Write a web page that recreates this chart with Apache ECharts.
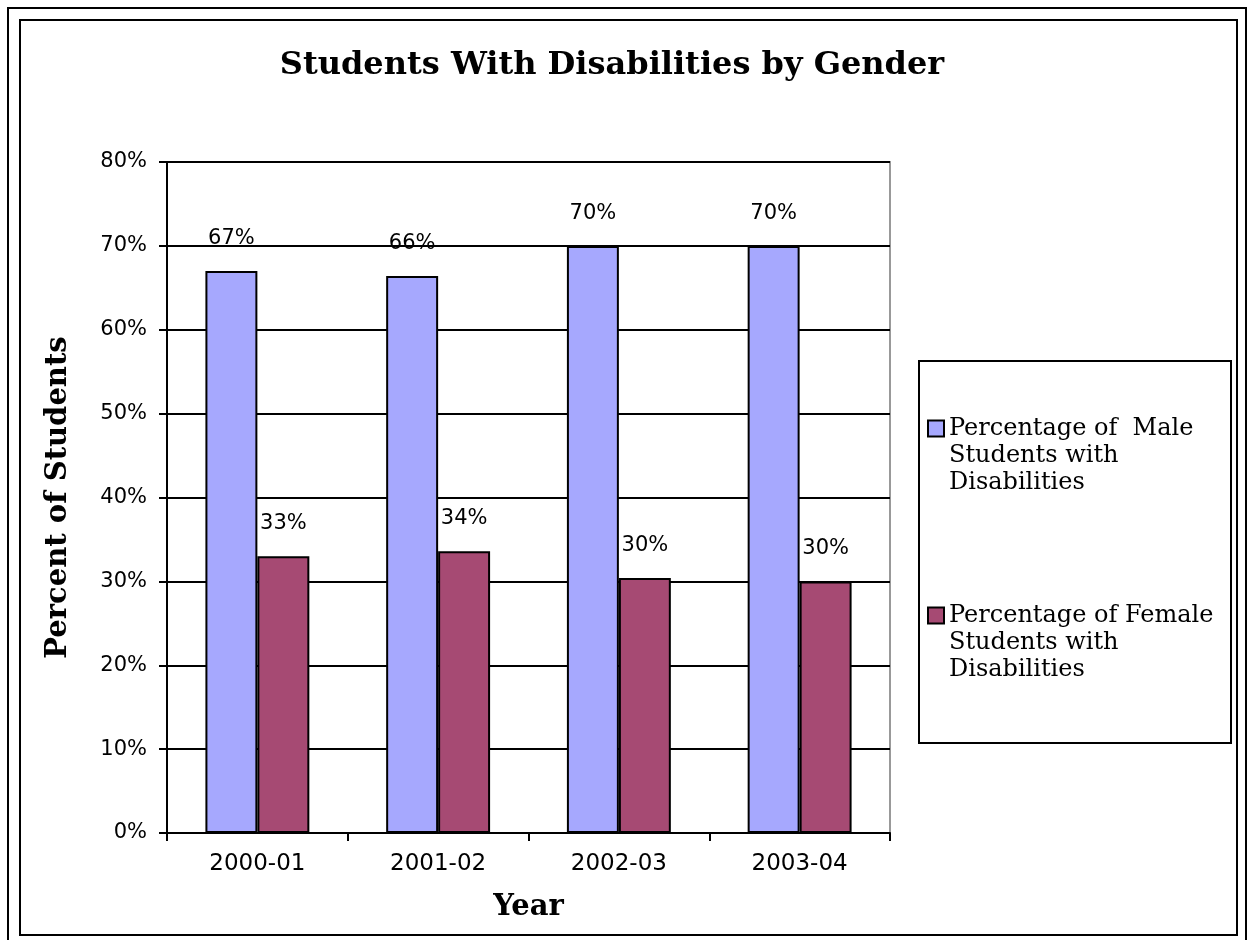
<!DOCTYPE html>
<html>
<head>
<meta charset="utf-8">
<script src="https://cdn.jsdelivr.net/npm/echarts@6/dist/echarts.min.js"></script>
<style>
    html, body { margin: 0; padding: 0; background: #fff; }
    #chart { width: 1248px; height: 940px; }
</style>
</head>
<body>
<div id="chart"></div>
<script>
var years = ['2000-01', '2001-02', '2002-03', '2003-04'];
var maleValues = [67.0, 66.4, 70.0, 70.0];
var femaleValues = [33.0, 33.6, 30.4, 30.0];
var seriesNames = ['Percentage of Male Students with Disabilities', 'Percentage of Female Students with Disabilities'];
var legendLines = {
    'Percentage of Male Students with Disabilities': ['Percentage of  Male', 'Students with', 'Disabilities'],
    'Percentage of Female Students with Disabilities': ['Percentage of Female', 'Students with', 'Disabilities']
};

var dom = document.getElementById('chart');
var myChart = echarts.init(dom, null, {renderer: 'canvas'});

var barLabel = {
    show: true,
    position: 'top',
    distance: 22,
    color: '#000',
    fontFamily: 'DejaVu Sans',
    fontSize: 21,
    formatter: function (p) {
        return Math.round(p.value) + '%';
    }
};

option = {
    animation: false,
    backgroundColor: '#fff',
    title: {
        text: 'Students With Disabilities by Gender',
        left: 607,
        textAlign: 'center',
        top: 45,
        textStyle: {
            fontFamily: 'DejaVu Serif',
            fontWeight: 'bold',
            fontSize: 32,
            color: '#000'
        }
    },
    graphic: [
        // outer frame
        {
            type: 'rect',
            shape: {x: 8, y: 8, width: 1238, height: 960},
            style: {fill: null, stroke: '#000', lineWidth: 2},
            silent: true
        },
        // chart area frame
        {
            type: 'rect',
            shape: {x: 20, y: 20, width: 1217, height: 915},
            style: {fill: null, stroke: '#000', lineWidth: 2},
            silent: true
        },
        // legend box
        {
            type: 'rect',
            shape: {x: 919, y: 361, width: 312, height: 382},
            style: {fill: '#fff', stroke: '#000', lineWidth: 2},
            silent: true,
            z: -1
        }
    ],
    legend: {
        orient: 'vertical',
        left: 927,
        top: 361,
        padding: 0,
        itemGap: 52,
        itemWidth: 16,
        itemHeight: 16,
        icon: 'rect',
        data: seriesNames,
        formatter: function (name) {
            // two blank lines up front keep the icon level with the first line
            return '\n\n' + legendLines[name].join('\n');
        },
        textStyle: {
            fontFamily: 'DejaVu Serif',
            fontSize: 24,
            lineHeight: 27,
            color: '#000'
        }
    },
    grid: {
        left: 167,
        right: 358,
        top: 162,
        bottom: 107,
        show: true,
        borderColor: '#999',
        borderWidth: 2
    },
    xAxis: {
        type: 'category',
        data: years,
        name: 'Year',
        nameLocation: 'middle',
        nameGap: 60,
        nameTextStyle: {
            fontFamily: 'DejaVu Serif',
            fontWeight: 'bold',
            fontSize: 29,
            color: '#000'
        },
        axisLine: {lineStyle: {color: '#000', width: 2}},
        axisTick: {show: true, length: 8, lineStyle: {color: '#000', width: 2}},
        axisLabel: {
            margin: 20,
            color: '#000',
            fontFamily: 'DejaVu Sans',
            fontSize: 23
        }
    },
    yAxis: {
        type: 'value',
        min: 0,
        max: 80,
        interval: 10,
        name: 'Percent of Students',
        nameLocation: 'middle',
        nameRotate: 90,
        nameGap: 94,
        nameTextStyle: {
            fontFamily: 'DejaVu Serif',
            fontWeight: 'bold',
            fontSize: 29,
            color: '#000'
        },
        axisLine: {show: true, lineStyle: {color: '#000', width: 2}},
        axisTick: {show: true, length: 8, lineStyle: {color: '#000', width: 2}},
        axisLabel: {
            margin: 20,
            color: '#000',
            fontFamily: 'DejaVu Sans',
            fontSize: 21,
            formatter: '{value}%'
        },
        splitLine: {show: true, lineStyle: {color: '#000', width: 2}}
    },
    series: [
        {
            name: seriesNames[0],
            type: 'bar',
            data: maleValues,
            barGap: '0%',
            barCategoryGap: '42.5%',
            itemStyle: {color: '#a6a8fe', borderColor: '#000', borderWidth: 2},
            label: barLabel
        },
        {
            name: seriesNames[1],
            type: 'bar',
            data: femaleValues,
            itemStyle: {color: '#a64a73', borderColor: '#000', borderWidth: 2},
            label: barLabel
        }
    ]
};

if (option && typeof option === "object") {
    myChart.setOption(option, true);
}
</script>
</body>
</html>
